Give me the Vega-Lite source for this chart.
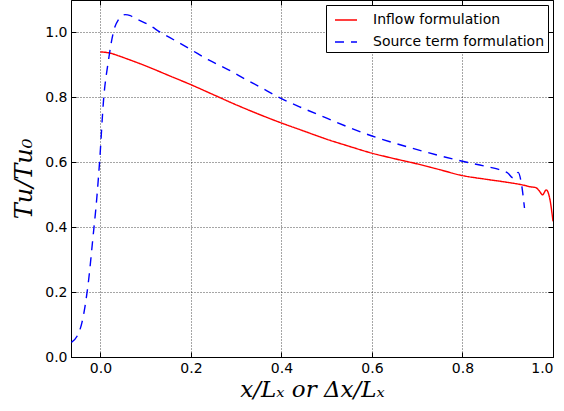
{
  "$schema": "https://vega.github.io/schema/vega-lite/v6.json",
  "width": 482,
  "height": 357,
  "autosize": {"type": "none"},
  "padding": {"left": 71, "top": 0, "right": 11, "bottom": 54},
  "background": "white",
  "config": {
    "view": {"stroke": "black", "strokeWidth": 1},
    "axis": {
      "domainColor": "black",
      "tickColor": "black",
      "labelColor": "black",
      "titleColor": "black",
      "labelFont": "DejaVu Sans",
      "labelFontSize": 14,
      "gridColor": "black",
      "gridDash": [1, 2],
      "gridOpacity": 1,
      "gridWidth": 0.7,
      "tickSize": -5
    }
  },
  "data": {
    "values": [
      {"s": "Inflow formulation", "x": 0.0, "y": 0.940},
      {"s": "Inflow formulation", "x": 0.01, "y": 0.939},
      {"s": "Inflow formulation", "x": 0.025, "y": 0.935},
      {"s": "Inflow formulation", "x": 0.04, "y": 0.928},
      {"s": "Inflow formulation", "x": 0.062, "y": 0.917},
      {"s": "Inflow formulation", "x": 0.1, "y": 0.897},
      {"s": "Inflow formulation", "x": 0.15, "y": 0.868},
      {"s": "Inflow formulation", "x": 0.2, "y": 0.839},
      {"s": "Inflow formulation", "x": 0.25, "y": 0.808},
      {"s": "Inflow formulation", "x": 0.3, "y": 0.777},
      {"s": "Inflow formulation", "x": 0.35, "y": 0.748},
      {"s": "Inflow formulation", "x": 0.4, "y": 0.721},
      {"s": "Inflow formulation", "x": 0.45, "y": 0.696},
      {"s": "Inflow formulation", "x": 0.5, "y": 0.671},
      {"s": "Inflow formulation", "x": 0.55, "y": 0.649},
      {"s": "Inflow formulation", "x": 0.6, "y": 0.628},
      {"s": "Inflow formulation", "x": 0.65, "y": 0.611},
      {"s": "Inflow formulation", "x": 0.7, "y": 0.595},
      {"s": "Inflow formulation", "x": 0.75, "y": 0.577},
      {"s": "Inflow formulation", "x": 0.8, "y": 0.559},
      {"s": "Inflow formulation", "x": 0.85, "y": 0.548},
      {"s": "Inflow formulation", "x": 0.9, "y": 0.538},
      {"s": "Inflow formulation", "x": 0.93, "y": 0.531},
      {"s": "Inflow formulation", "x": 0.952, "y": 0.524},
      {"s": "Inflow formulation", "x": 0.962, "y": 0.522},
      {"s": "Inflow formulation", "x": 0.969, "y": 0.513},
      {"s": "Inflow formulation", "x": 0.977, "y": 0.500},
      {"s": "Inflow formulation", "x": 0.985, "y": 0.515},
      {"s": "Inflow formulation", "x": 0.993, "y": 0.487},
      {"s": "Inflow formulation", "x": 1.0, "y": 0.418},
      {"s": "Source term formulation", "x": -0.064, "y": 0.045},
      {"s": "Source term formulation", "x": -0.052, "y": 0.063},
      {"s": "Source term formulation", "x": -0.041, "y": 0.105},
      {"s": "Source term formulation", "x": -0.034, "y": 0.156},
      {"s": "Source term formulation", "x": -0.026, "y": 0.238},
      {"s": "Source term formulation", "x": -0.017, "y": 0.361},
      {"s": "Source term formulation", "x": -0.008, "y": 0.490},
      {"s": "Source term formulation", "x": -0.002, "y": 0.598},
      {"s": "Source term formulation", "x": 0.007, "y": 0.793},
      {"s": "Source term formulation", "x": 0.018, "y": 0.916},
      {"s": "Source term formulation", "x": 0.029, "y": 1.003},
      {"s": "Source term formulation", "x": 0.04, "y": 1.040},
      {"s": "Source term formulation", "x": 0.0545, "y": 1.055},
      {"s": "Source term formulation", "x": 0.066, "y": 1.052},
      {"s": "Source term formulation", "x": 0.0766, "y": 1.044},
      {"s": "Source term formulation", "x": 0.106, "y": 1.024},
      {"s": "Source term formulation", "x": 0.1355, "y": 0.998},
      {"s": "Source term formulation", "x": 0.165, "y": 0.975},
      {"s": "Source term formulation", "x": 0.2, "y": 0.947},
      {"s": "Source term formulation", "x": 0.238, "y": 0.916},
      {"s": "Source term formulation", "x": 0.283, "y": 0.885},
      {"s": "Source term formulation", "x": 0.319, "y": 0.857},
      {"s": "Source term formulation", "x": 0.35, "y": 0.834},
      {"s": "Source term formulation", "x": 0.4, "y": 0.796},
      {"s": "Source term formulation", "x": 0.45, "y": 0.765},
      {"s": "Source term formulation", "x": 0.5, "y": 0.736},
      {"s": "Source term formulation", "x": 0.55, "y": 0.707},
      {"s": "Source term formulation", "x": 0.6, "y": 0.681},
      {"s": "Source term formulation", "x": 0.65, "y": 0.659},
      {"s": "Source term formulation", "x": 0.7, "y": 0.639},
      {"s": "Source term formulation", "x": 0.75, "y": 0.620},
      {"s": "Source term formulation", "x": 0.8, "y": 0.603},
      {"s": "Source term formulation", "x": 0.85, "y": 0.588},
      {"s": "Source term formulation", "x": 0.88, "y": 0.578},
      {"s": "Source term formulation", "x": 0.9, "y": 0.567},
      {"s": "Source term formulation", "x": 0.912, "y": 0.552},
      {"s": "Source term formulation", "x": 0.923, "y": 0.569},
      {"s": "Source term formulation", "x": 0.93, "y": 0.536},
      {"s": "Source term formulation", "x": 0.937, "y": 0.459}
    ]
  },
  "encoding": {
    "x": {"field": "x", "type": "quantitative", "scale": {"domain": [-0.065, 1.0], "nice": false, "zero": false}},
    "y": {"field": "y", "type": "quantitative", "scale": {"domain": [0, 1.1], "nice": false}}
  },
  "layer": [
    {
      "mark": {"type": "line", "opacity": 0},
      "encoding": {
        "detail": {"field": "s", "type": "nominal"},
        "x": {
          "field": "x", "type": "quantitative",
          "axis": {"orient": "top", "values": [0, 0.2, 0.4, 0.6, 0.8, 1.0], "labels": false, "grid": false, "domain": false, "title": null}
        },
        "y": {
          "field": "y", "type": "quantitative",
          "axis": {"orient": "right", "values": [0, 0.2, 0.4, 0.6, 0.8, 1.0], "labels": false, "grid": false, "domain": false, "title": null}
        }
      }
    },
    {
      "mark": {"type": "line", "strokeWidth": 1.4, "clip": true, "interpolate": "monotone"},
      "encoding": {
        "x": {
          "field": "x", "type": "quantitative",
          "axis": {
            "values": [0, 0.2, 0.4, 0.6, 0.8, 1.0],
            "format": ".1f",
            "grid": true,
            "gridColor": "black",
            "gridDash": [1, 2],
            "gridWidth": 0.7,
            "labelFontSize": 14,
            "labelPadding": 9,
            "title": "x/Lₓ or Δx/Lₓ",
            "titleFont": "DejaVu Serif",
            "titleFontStyle": "italic",
            "titleFontWeight": "normal",
            "titleFontSize": 23,
            "titlePadding": 3
          }
        },
        "y": {
          "field": "y", "type": "quantitative",
          "axis": {
            "values": [0, 0.2, 0.4, 0.6, 0.8, 1.0],
            "format": ".1f",
            "grid": true,
            "gridColor": "black",
            "gridDash": [1, 2],
            "gridWidth": 0.7,
            "labelFontSize": 14,
            "labelPadding": 9,
            "title": "Tu/Tu₀",
            "titleFont": "DejaVu Serif",
            "titleFontStyle": "italic",
            "titleFontWeight": "normal",
            "titleFontSize": 24,
            "titlePadding": 8
          }
        },
        "color": {
          "field": "s",
          "type": "nominal",
          "scale": {"domain": ["Inflow formulation", "Source term formulation"], "range": ["#ff0000", "#0000ff"]},
          "legend": {
            "title": null,
            "orient": "top-right",
            "offset": 5,
            "symbolType": "stroke",
            "symbolSize": 484,
            "symbolStrokeWidth": 1.5,
            "symbolOffset": 5,
            "labelFont": "DejaVu Sans",
            "labelFontSize": 14,
            "labelColor": "black",
            "labelLimit": 0,
            "labelOffset": 15,
            "strokeColor": "black",
            "fillColor": "white",
            "padding": 3,
            "rowPadding": 3,
            "cornerRadius": 0
          }
        },
        "strokeDash": {
          "field": "s",
          "type": "nominal",
          "scale": {"domain": ["Inflow formulation", "Source term formulation"], "range": [[1, 0], [9, 7]]},
          "legend": null
        }
      }
    }
  ],
  "resolve": {"axis": {"x": "independent", "y": "independent"}}
}
